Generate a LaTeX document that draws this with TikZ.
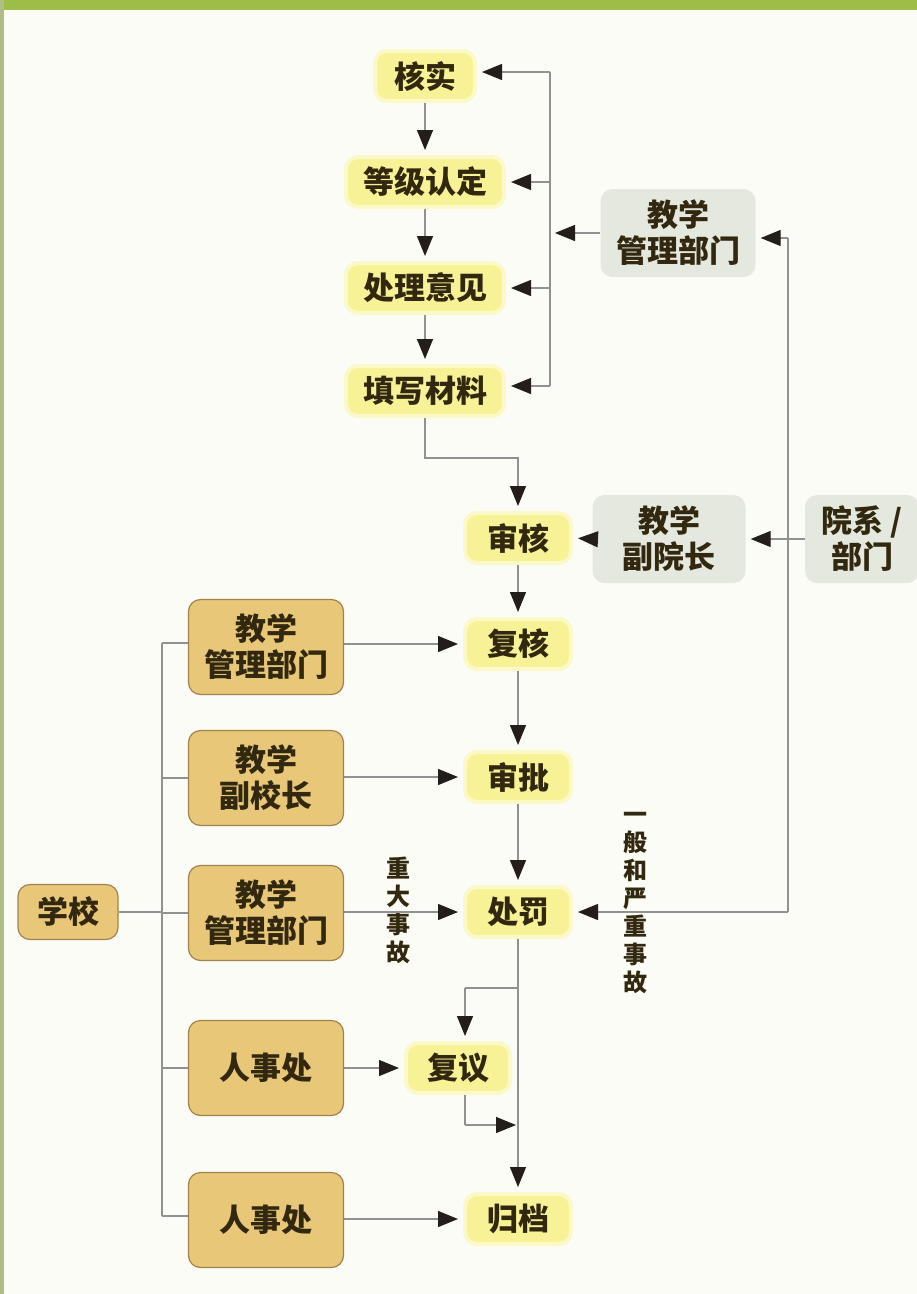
\documentclass[tikz,border=0pt]{standalone}
\usepackage{fontspec}
\newfontfamily\cjk{Noto Sans CJK SC}
\usetikzlibrary{arrows.meta,calc}
\definecolor{bg}{RGB}{252,252,246}
\definecolor{bar}{RGB}{158,188,72}
\definecolor{barleft}{RGB}{175,190,135}
\definecolor{yelfill}{RGB}{247,242,150}
\definecolor{yeledge}{RGB}{251,249,200}
\definecolor{tanfill}{RGB}{232,199,120}
\definecolor{tanedge}{RGB}{160,130,75}
\definecolor{grayfill}{RGB}{229,232,222}
\definecolor{txt}{RGB}{50,40,15}
\definecolor{ln}{RGB}{145,145,145}
\definecolor{tip}{RGB}{35,30,25}
\begin{document}
\begin{tikzpicture}[x=1pt,y=-1pt,
  box/.style={rounded corners=12pt, align=center, inner sep=0pt, text=txt,
    font=\cjk\bfseries\fontsize{31}{36}\selectfont},
  yel/.style={box, fill=yelfill, draw=yeledge, line width=4pt, minimum height=50pt},
  tanbox/.style={box, fill=tanfill, draw=tanedge, line width=1.2pt, minimum width=155pt, minimum height=95pt},
  gry/.style={box, fill=grayfill, draw=none, minimum height=88pt},
  conn/.style={draw=ln, line width=1.3pt},
  arr/.style={conn, -{Triangle[length=20pt,width=16pt,color=tip]}, shorten >=5pt},
  lbl/.style={align=center, text=txt, font=\cjk\bfseries\fontsize{24}{28}\selectfont, inner sep=0pt}
]
\fill[bg] (0,0) rectangle (917,1294);
\useasboundingbox (0,0) rectangle (917,1294);
\fill[bar] (0,0) rectangle (917,10);
\fill[barleft] (0,0) rectangle (4,1294);

% yellow chain
\node[yel, minimum width=100pt] (hs) at (425,76) {核实};
\node[yel, minimum width=158pt] (dj) at (425,182) {等级认定};
\node[yel, minimum width=158pt] (cl) at (425,288) {处理意见};
\node[yel, minimum width=158pt] (tx) at (425,391) {填写材料};
\node[yel, minimum width=106pt] (sh) at (518,538) {审核};
\node[yel, minimum width=106pt] (fh) at (518,644) {复核};
\node[yel, minimum width=106pt] (sp) at (518,777) {审批};
\node[yel, minimum width=106pt] (cf) at (518,912) {处罚};
\node[yel, minimum width=104pt] (fyi) at (458,1068) {复议};
\node[yel, minimum width=106pt] (gd) at (518,1219) {归档};

% gray nodes
\node[gry, minimum width=155pt] (gm) at (678,233) {教学\\管理部门};
\node[gry, minimum width=153pt] (fyz) at (669,539) {教学\\副院长};
\node[gry, minimum width=114pt] (yx) at (862,539) {院系 /\\部门};

% tan nodes
\node[box, fill=tanfill, draw=tanedge, line width=1.2pt, minimum width=100pt, minimum height=55pt] (xx) at (68,912) {学校};
\node[tanbox] (t1) at (266,647) {教学\\管理部门};
\node[tanbox] (t2) at (266,778) {教学\\副校长};
\node[tanbox] (t3) at (266,913) {教学\\管理部门};
\node[tanbox] (t4) at (266,1068) {人事处};
\node[tanbox] (t5) at (266,1220) {人事处};

% labels
\node[lbl] (l1) at (398,910) {重\\大\\事\\故};
\node[lbl] (l2) at (635,903) {一\\般\\和\\严\\重\\事\\故};

% top chain
\draw[arr] (hs.south) -- (dj.north);
\draw[arr] (dj.south) -- (cl.north);
\draw[arr] (cl.south) -- (tx.north);
\draw[arr] (tx.south) -- ++(0,40) -| (sh.north);
\draw[arr] (sh.south) -- (fh.north);
\draw[arr] (fh.south) -- (sp.north);
\draw[arr] (sp.south) -- (cf.north);
\draw[arr] (cf.south) -- (gd.north);

% bracket from teaching management
\coordinate (b1) at (550,72);
\coordinate (b4) at (550,386);
\draw[conn] (b1) -- (b4);
\draw[arr] (b1) -- (b1 -| hs.east);
\draw[arr] (dj.east -| b1) -- (dj.east);
\draw[arr] (cl.east -| b1) -- (cl.east);
\draw[arr] (b4) -- (b4 -| tx.east);
\draw[arr] (gm.west) -- (gm.west -| b1);

% right line
\coordinate (r1) at (788,238);
\coordinate (r2) at (788,912);
\draw[conn] (r1) -- (r2);
\draw[arr] (r1) -- (r1 -| gm.east);
\draw[arr] (r2) -- (cf.east);
\draw[arr] (yx.west) -- (fyz.east);
\draw[arr] (fyz.west) -- (sh.east);

% left fan
\coordinate (c1) at (162,643);
\coordinate (c5) at (162,1216);
\draw[conn] (c1) -- (c5);
\draw[conn] (xx.east) -- (xx.east -| c1);
\draw[conn] (c1) -- (c1 -| t1.west);
\draw[conn] (t2.west -| c1) -- (t2.west);
\draw[conn] (t3.west -| c1) -- (t3.west);
\draw[conn] (t4.west -| c1) -- (t4.west);
\draw[conn] (c5) -- (c5 -| t5.west);

\draw[arr] (t1.east |- fh.west) -- (fh.west);
\draw[arr] (t2.east |- sp.west) -- (sp.west);
\draw[arr] (t3.east |- cf.west) -- (cf.west);
\draw[arr] (t4.east |- fyi.west) -- (fyi.west);
\draw[arr] (t5.east |- gd.west) -- (gd.west);

% review branch
\coordinate (k1) at (518,988);
\coordinate (k2) at (465,988);
\coordinate (m1) at (465,1125);
\coordinate (m2) at (518,1125);
\draw[conn] (k1) -- (k2);
\draw[arr] (k2) -- (k2 |- fyi.north);
\draw[conn] (m1 |- fyi.south) -- (m1);
\draw[arr, shorten >=2pt] (m1) -- (m2);
\end{tikzpicture}
\end{document}
